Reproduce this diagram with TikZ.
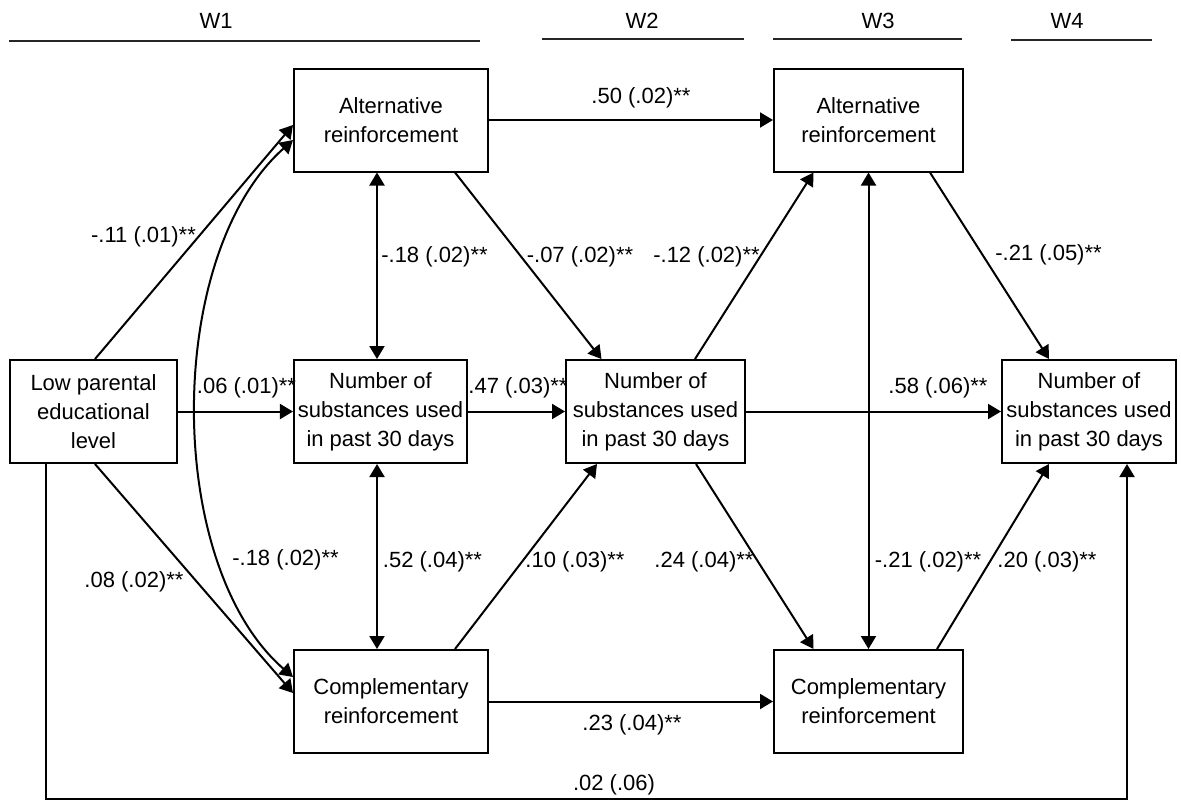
\documentclass[tikz,border=0pt]{standalone}
\usepackage{fontspec}
\setmainfont{Liberation Sans}
\usetikzlibrary{arrows.meta, calc}
\tikzset{
  every picture/.style={line width=1pt},
  var/.style={draw, line width=1pt, align=center, inner sep=2pt, minimum height=51.5pt, font=\fontsize{11}{14.5}\selectfont},
  coef/.style={font=\fontsize{11}{13}\selectfont, inner sep=1pt},
  wave/.style={font=\fontsize{11}{13}\selectfont, inner sep=0pt},
  arr/.style={-{Triangle[length=6.5pt, width=7.5pt]}, line width=1pt},
  dbl/.style={{Triangle[length=6.5pt, width=7.5pt]}-{Triangle[length=6.5pt, width=7.5pt]}, line width=1pt},
  rule/.style={line width=1.1pt, draw=black!85},
}

\begin{document}
\begin{tikzpicture}[x=0.5pt, y=-0.5pt]
  \useasboundingbox (0,0) rectangle (1181,800);

  % waves
  \node[wave] (w1) at (216,20.5) {W1};
  \node[wave] (w2) at (642,20.5) {W2};
  \node[wave] (w3) at (878,20.5) {W3};
  \node[wave] (w4) at (1067,20.5) {W4};
  \draw[rule] (9,41) -- (480,41);
  \draw[rule] (542,39) -- (744,39);
  \draw[rule] (773,39) -- (962,39);
  \draw[rule] (1011,40) -- (1152,40);

  % variables
  \node[var, minimum width=83.5pt] (low) at (93.5,411.5) {Low parental\\educational\\level};
  \node[var, minimum width=97pt] (alt1) at (391,120) {Alternative\\reinforcement};
  \node[var, minimum width=86.5pt] (num1) at (380.5,411.5) {Number of\\substances used\\in past 30 days};
  \node[var, minimum width=97pt] (comp1) at (391,701.5) {Complementary\\reinforcement};
  \node[var, minimum width=89.5pt] (num2) at (655.5,411.5) {Number of\\substances used\\in past 30 days};
  \node[var, minimum width=94.5pt] (alt3) at (868.5,120) {Alternative\\reinforcement};
  \node[var, minimum width=94.5pt] (comp3) at (868.5,701.5) {Complementary\\reinforcement};
  \node[var, minimum width=87pt] (num4) at (1089,411.5) {Number of\\substances used\\in past 30 days};

  % paths
  \draw[arr] (alt1) -- (alt3);
  \draw[dbl] ($(alt1.south)+(-14,0)$) -- ($(num1.north)+(-3.5,0)$);
  \draw[dbl] ($(num1.south)+(-3.5,0)$) -- ($(comp1.north)+(-14,0)$);
  \draw[arr] ($(low.north)+(1.5,0)$) -- ($(alt1.west)+(0,5)$);
  \draw[dbl] ($(alt1.west)+(0,20)$) .. controls ($(alt1.west)+(-129,135)$) and ($(comp1.west)+(-129,-136.5)$) .. ($(comp1.west)+(0,-24.5)$);
  \draw[arr] ($(low.south)+(1.5,0)$) -- ($(comp1.west)+(0,-8.5)$);
  \draw[arr] (low) -- (num1);
  \draw[arr] (num1) -- (num2);
  \draw[arr] ($(alt1.south)+(64,0)$) -- ($(num2.north)+(-54,0)$);
  \draw[arr] ($(num2.north)+(39.5,0)$) -- ($(alt3.south)+(-55,0)$);
  \draw[dbl] (alt3) -- (comp3);
  \draw[arr] ($(alt3.south)+(61.5,0)$) -- ($(num4.north)+(-40,0)$);
  \draw[arr] (num2) -- (num4);
  \draw[arr] ($(comp1.north)+(64,0)$) -- ($(num2.south)+(-58.5,0)$);
  \draw[arr] ($(num2.south)+(40.5,0)$) -- ($(comp3.north)+(-55,0)$);
  \draw[arr] ($(comp3.north)+(68.5,0)$) -- ($(num4.south)+(-40,0)$);
  \draw[arr] (comp1) -- (comp3);
  \draw[arr] ($(low.south)+(-48,0)$) -- ++(0,335) -| ($(num4.south)+(38,0)$);

  % coefficients
  \node[coef] (c50) at (641,98) {.50 (.02)**};
  \node[coef] (c18a) at (434.5,257) {-.18 (.02)**};
  \node[coef] (c52) at (432.5,562) {.52 (.04)**};
  \node[coef] (c11) at (143.5,237) {-.11 (.01)**};
  \node[coef] (c18b) at (285.5,560) {-.18 (.02)**};
  \node[coef] (c08) at (134,582) {.08 (.02)**};
  \node[coef] (c06) at (246.5,388) {.06 (.01)**};
  \node[coef] (c47) at (518,388) {.47 (.03)**};
  \node[coef] (c07) at (580,257) {-.07 (.02)**};
  \node[coef] (c12) at (706.5,257) {-.12 (.02)**};
  \node[coef] (c21a) at (1048.5,255) {-.21 (.05)**};
  \node[coef] (c58) at (938,388) {.58 (.06)**};
  \node[coef] (c10) at (575,562) {.10 (.03)**};
  \node[coef] (c24) at (704,562) {.24 (.04)**};
  \node[coef] (c21b) at (928,562) {-.21 (.02)**};
  \node[coef] (c20) at (1047,562) {.20 (.03)**};
  \node[coef] (c23) at (632,725) {.23 (.04)**};
  \node[coef] (c02) at (614,785) {.02 (.06)};
\end{tikzpicture}
\end{document}
